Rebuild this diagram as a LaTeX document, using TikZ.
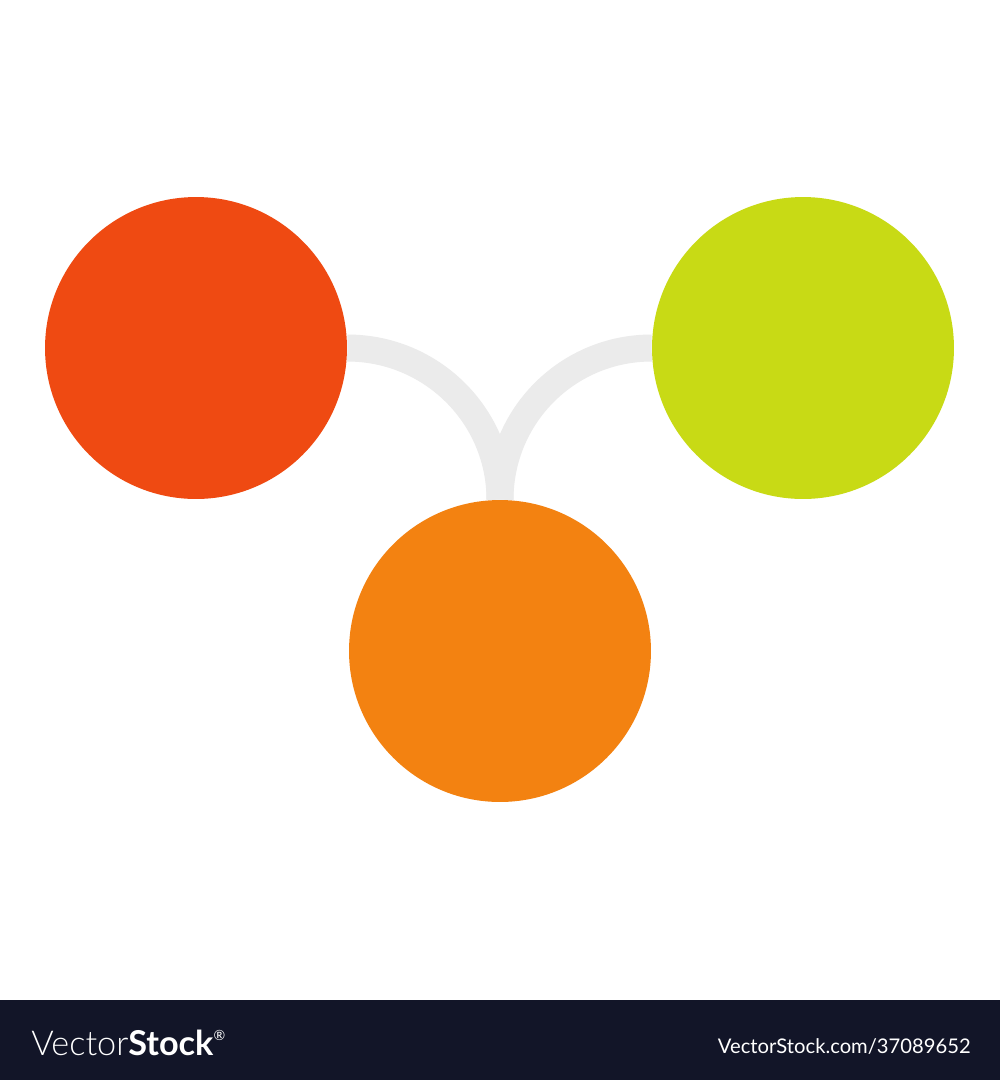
\documentclass[tikz,border=0pt]{standalone}
\usepackage{fontspec}
\setmainfont{Lato}
\usetikzlibrary{backgrounds}
\definecolor{cred}{HTML}{EF4A12}
\definecolor{cgreen}{HTML}{C8DA15}
\definecolor{corange}{HTML}{F38211}
\definecolor{clink}{HTML}{EBEBEB}
\definecolor{cbar}{HTML}{121528}
\tikzset{
  dot/.style={circle, inner sep=0pt, minimum size=6.04cm, draw=none},
  link/.style={draw=clink, line width=0.54cm},
  bartext/.style={text=white, inner sep=0pt}
}
\begin{document}
\begin{tikzpicture}[x=0.02cm,y=-0.02cm]
\useasboundingbox (0,0) rectangle (1000,1080);
\fill[cbar] (0,1000) rectangle (1000,1080);
\node[dot, fill=cred] (red) at (196,348) {};
\node[dot, fill=cgreen] (green) at (803,348) {};
\node[dot, fill=corange] (orange) at (500,651) {};
\begin{scope}[on background layer]
\fill[white] (0,0) rectangle (1000,1000);
\draw[link] (red.east) to[out=0,in=90] (orange.north);
\draw[link] (green.west) to[out=180,in=90] (orange.north);
\end{scope}
\node[bartext, anchor=base west, font=\fontsize{19.5}{22}\selectfont] (brand) at (31,1055)
  {{\fontspec{Lato Light}Vector}\textbf{Stock}\raisebox{0.85ex}{\fontsize{8}{9}\selectfont\textregistered}};
\node[bartext, anchor=base east, font=\fontsize{11.5}{13}\selectfont] (url) at (971,1053) {VectorStock.com/37089652};
\end{tikzpicture}
\end{document}
